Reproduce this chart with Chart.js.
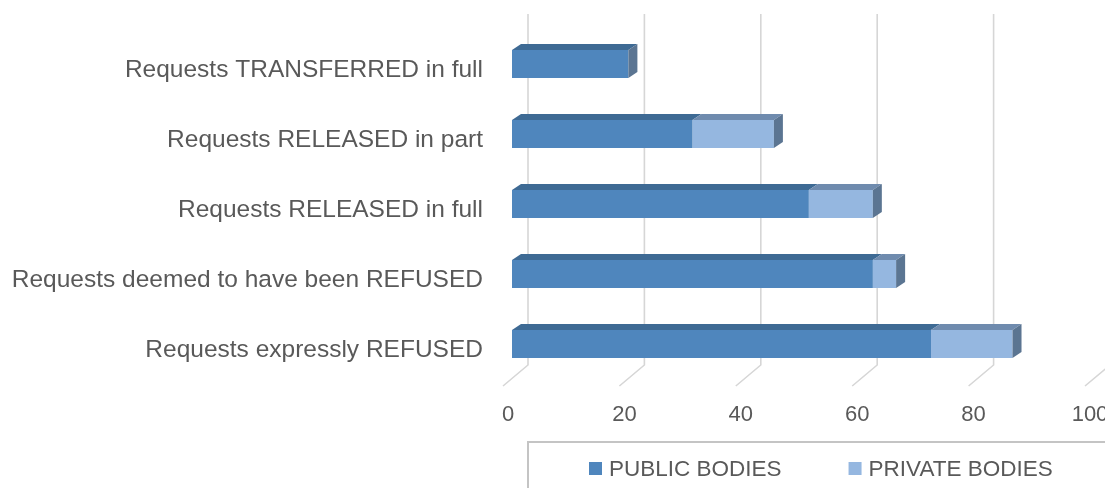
<!DOCTYPE html>
<html>
<head>
<meta charset="utf-8">
<script src="https://cdn.jsdelivr.net/npm/chart.js@4/dist/chart.umd.min.js"></script>
<style>
  html, body { margin: 0; padding: 0; background: #fff; }
  canvas { display: block; }
</style>
</head>
<body>
<canvas id="requestsChart" width="1105" height="488"></canvas>
<script>
(() => {
    // data, top row first
    const categories = [
        'Requests TRANSFERRED in full',
        'Requests RELEASED in part',
        'Requests RELEASED in full',
        'Requests deemed to have been REFUSED',
        'Requests expressly REFUSED'
    ];
    const publicBodies = [20, 31, 51, 62, 72];
    const privateBodies = [0, 14, 11, 4, 14];
    const xTicks = [0, 20, 40, 60, 80, 100];
    const seriesNames = ['PUBLIC BODIES', 'PRIVATE BODIES'];

    const textColor = '#595959';
    const fontFamily = '"Liberation Sans", Arial, sans-serif';
    const frontColors = ['#4f86bd', '#95b7e0'];
    const topColors = ['#3e6a94', '#6f8bae'];
    const sideColor = '#5b7592';
    const depthX = 9;
    const depthY = -6;

    // back wall gridlines + floor lines
    const wallGrid = {
        id: 'wallGrid',
        beforeDatasetsDraw(chart) {
            const { ctx, chartArea, scales } = chart;
            ctx.save();
            ctx.strokeStyle = '#d6d6d6';
            ctx.lineWidth = 1.6;
            xTicks.forEach(v => {
                const px = scales.x.getPixelForValue(v);
                ctx.beginPath();
                ctx.moveTo(px + 16, chartArea.top - 15);
                ctx.lineTo(px + 16, chartArea.bottom - 14);
                ctx.lineTo(px - 9, chartArea.bottom + 7);
                ctx.stroke();
            });
            ctx.restore();
        }
    };

    // top and end faces so the bars look like excel 3d bars
    const barDepth = {
        id: 'barDepth',
        afterDatasetsDraw(chart) {
            const { ctx } = chart;
            ctx.save();
            const ends = [];
            chart.data.datasets.forEach((ds, di) => {
                const meta = chart.getDatasetMeta(di);
                meta.data.forEach((bar, i) => {
                    const left = Math.min(bar.base, bar.x);
                    const right = Math.max(bar.base, bar.x);
                    if (right - left < 0.5) return;
                    const top = bar.y - bar.height / 2;
                    ctx.fillStyle = topColors[di];
                    ctx.beginPath();
                    ctx.moveTo(left, top);
                    ctx.lineTo(right, top);
                    ctx.lineTo(right + depthX, top + depthY);
                    ctx.lineTo(left + depthX, top + depthY);
                    ctx.closePath();
                    ctx.fill();
                    if (!ends[i] || right > ends[i].right) {
                        ends[i] = { right, top, bottom: top + bar.height };
                    }
                });
            });
            ctx.fillStyle = sideColor;
            ends.forEach(e => {
                if (!e) return;
                ctx.beginPath();
                ctx.moveTo(e.right, e.top);
                ctx.lineTo(e.right + depthX, e.top + depthY);
                ctx.lineTo(e.right + depthX, e.bottom + depthY);
                ctx.lineTo(e.right, e.bottom);
                ctx.closePath();
                ctx.fill();
            });
            ctx.restore();
        }
    };

    // boxed legend at the bottom
    const boxLegend = {
        id: 'boxLegend',
        afterDraw(chart) {
            const { ctx } = chart;
            ctx.save();
            ctx.strokeStyle = '#c4c4c4';
            ctx.lineWidth = 2;
            ctx.strokeRect(528, 442, 600, 80);

            ctx.font = '22.5px ' + fontFamily;
            ctx.textBaseline = 'alphabetic';
            let x = 589;
            chart.data.datasets.forEach((ds, di) => {
                ctx.fillStyle = frontColors[di];
                ctx.fillRect(x, 462, 13, 13);
                ctx.fillStyle = textColor;
                ctx.fillText(ds.label, x + 20, 476);
                x += 20 + ctx.measureText(ds.label).width + 67;
            });
            ctx.restore();
        }
    };

    const ctx = document.getElementById('requestsChart').getContext('2d');
    new Chart(ctx, {
        type: 'bar',
        data: {
            labels: categories,
            datasets: [{
                label: seriesNames[0],
                data: publicBodies,
                backgroundColor: frontColors[0],
                borderWidth: 0
            }, {
                label: seriesNames[1],
                data: privateBodies,
                backgroundColor: frontColors[1],
                borderWidth: 0
            }]
        },
        options: {
            indexAxis: 'y',
            responsive: false,
            animation: false,
            categoryPercentage: 1,
            barPercentage: 0.4,
            layout: { padding: { top: 29, right: 11, left: 0, bottom: 0 } },
            plugins: {
                legend: { display: false },
                tooltip: { enabled: false }
            },
            scales: {
                x: {
                    stacked: true,
                    min: 0,
                    max: 100,
                    grid: { display: false, drawTicks: false },
                    border: { display: false },
                    ticks: {
                        stepSize: 20,
                        padding: 23,
                        labelOffset: -4,
                        color: textColor,
                        font: { family: fontFamily, size: 22 }
                    },
                    afterFit: s => {
                        s.height = 109;
                        s.paddingLeft = 0;
                        s.paddingRight = 0;
                    }
                },
                y: {
                    stacked: true,
                    grid: { display: false, drawTicks: false },
                    border: { display: false },
                    ticks: {
                        padding: 29,
                        labelOffset: 6,
                        color: textColor,
                        font: { family: fontFamily, size: 24.5 }
                    },
                    afterFit: s => {
                        s.width = 512;
                        s.paddingTop = 0;
                        s.paddingBottom = 0;
                    }
                }
            }
        },
        plugins: [wallGrid, barDepth, boxLegend]
    });
})();
</script>
</body>
</html>
